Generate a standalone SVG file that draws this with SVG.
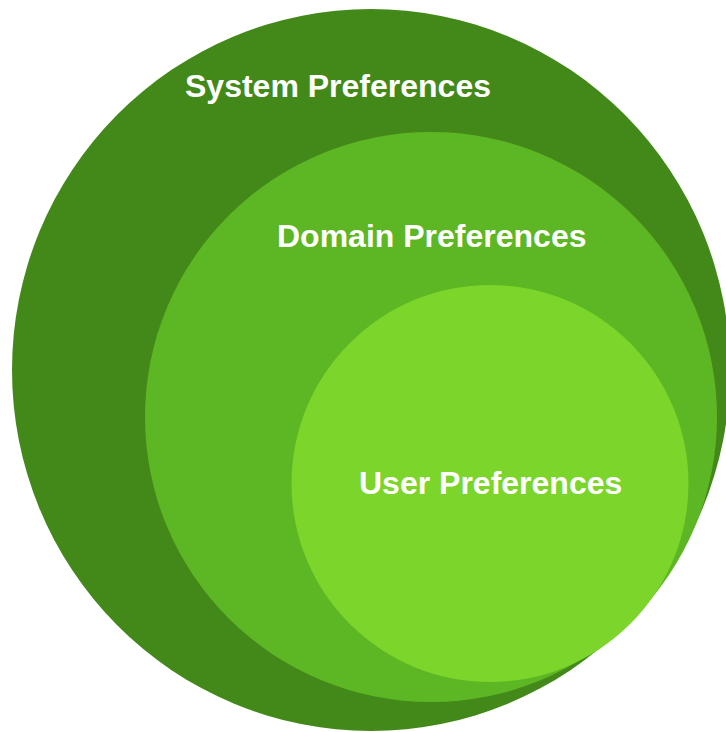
<svg xmlns="http://www.w3.org/2000/svg" width="726" height="732" viewBox="0 0 726 732">
<style>
.lbl{font-family:"Liberation Sans",Arial,Helvetica,sans-serif;font-weight:bold;font-size:32px;fill:#ffffff}
</style>
<rect width="726" height="732" fill="#ffffff"/>
<g id="system">
<ellipse cx="371" cy="370" rx="359" ry="361" fill="#43891A"/>
<text class="lbl" x="185" y="97">System Preferences</text>
</g>
<g id="domain">
<ellipse cx="431" cy="417" rx="286" ry="285" fill="#5DB623"/>
<text class="lbl" x="277" y="247">Domain Preferences</text>
</g>
<g id="user">
<circle cx="490" cy="483.5" r="198.5" fill="#7BD52A"/>
<text class="lbl" x="359" y="494">User Preferences</text>
</g>
<g id="connectors"/>
</svg>
